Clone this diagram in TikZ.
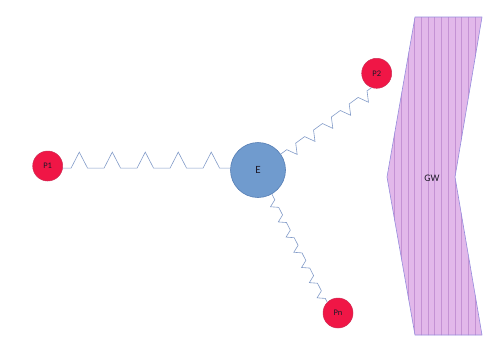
\documentclass[tikz,border=0pt]{standalone}
\usepackage{fontspec}
\setmainfont{Carlito}
\usetikzlibrary{decorations}
\pgfdeclaredecoration{sawspring}{start}{
  \state{start}[width=\pgfdecorationsegmentlength,next state=start]{
    \pgfpathlineto{\pgfpoint{0.25\pgfdecorationsegmentlength}{0pt}}
    \pgfpathlineto{\pgfpoint{0.5\pgfdecorationsegmentlength}{\pgfdecorationsegmentamplitude}}
    \pgfpathlineto{\pgfpoint{0.75\pgfdecorationsegmentlength}{0pt}}
    \pgfpathlineto{\pgfpoint{\pgfdecorationsegmentlength}{0pt}}
  }
  \state{final}{\pgfpathlineto{\pgfpointdecoratedpathlast}}
}
\definecolor{pfill}{RGB}{240,22,70}
\definecolor{pborder}{RGB}{205,45,85}
\definecolor{efill}{RGB}{112,155,206}
\definecolor{eborder}{RGB}{85,125,180}
\definecolor{springcol}{RGB}{130,155,200}
\definecolor{gwfill}{RGB}{226,184,234}
\definecolor{gwline}{RGB}{196,146,212}
\definecolor{gwborder}{RGB}{150,140,220}
\definecolor{txt}{RGB}{30,25,40}
\tikzset{
  particle/.style={circle, fill=pfill, draw=pborder, line width=0.5pt, minimum size=30pt, inner sep=0pt, font=\fontsize{8.5}{9}\selectfont, text=txt},
  electron/.style={circle, fill=efill, draw=eborder, line width=0.6pt, minimum size=55pt, inner sep=0pt, font=\fontsize{11}{12}\selectfont, text=txt},
  springline/.style={draw=springcol, line width=0.6pt, decorate, decoration={sawspring, amplitude=#1}},
  gwlabel/.style={font=\fontsize{10}{12}\selectfont, text=txt, inner sep=0pt}
}
\begin{document}
\begin{tikzpicture}[x=1pt,y=-1pt]
\useasboundingbox (0,0) rectangle (500,354);
% gravitational wave band
\path[fill=gwfill] (415,17) -- (482,17) -- (455,177) -- (482,335) -- (415,335) -- (387,177) -- cycle;
\begin{scope}
  \clip (415,17) -- (482,17) -- (455,177) -- (482,335) -- (415,335) -- (387,177) -- cycle;
  \foreach \x in {394.5,401.2,407.9,414.6,421.3,428,434.7,441.4,448.1,454.8,461.5,468.2,474.9}
    \draw[gwline, line width=0.6pt] (\x,10) -- (\x,345);
\end{scope}
\draw[gwborder, line width=0.6pt, line join=round] (415,17) -- (482,17) -- (455,177) -- (482,335) -- (415,335) -- (387,177) -- cycle;
\node[gwlabel] (GW) at (432,178) {GW};
% nodes
\node[electron] (E) at (258,170) {E};
\node[particle] (P1) at (47.7,166) {P1};
\node[particle] (P2) at (376.7,73.3) {P2};
\node[particle] (Pn) at (338,313) {Pn};
% springs
\draw[springline=16pt, decoration={segment length=33pt}] (P1.352) -- (E.176);
\draw[springline=10pt, decoration={segment length=22.1pt}] (P2.250) -- (E.35);
\draw[springline=7pt, decoration={segment length=17.05pt}] (Pn.135) -- (E.300);
\end{tikzpicture}
\end{document}
